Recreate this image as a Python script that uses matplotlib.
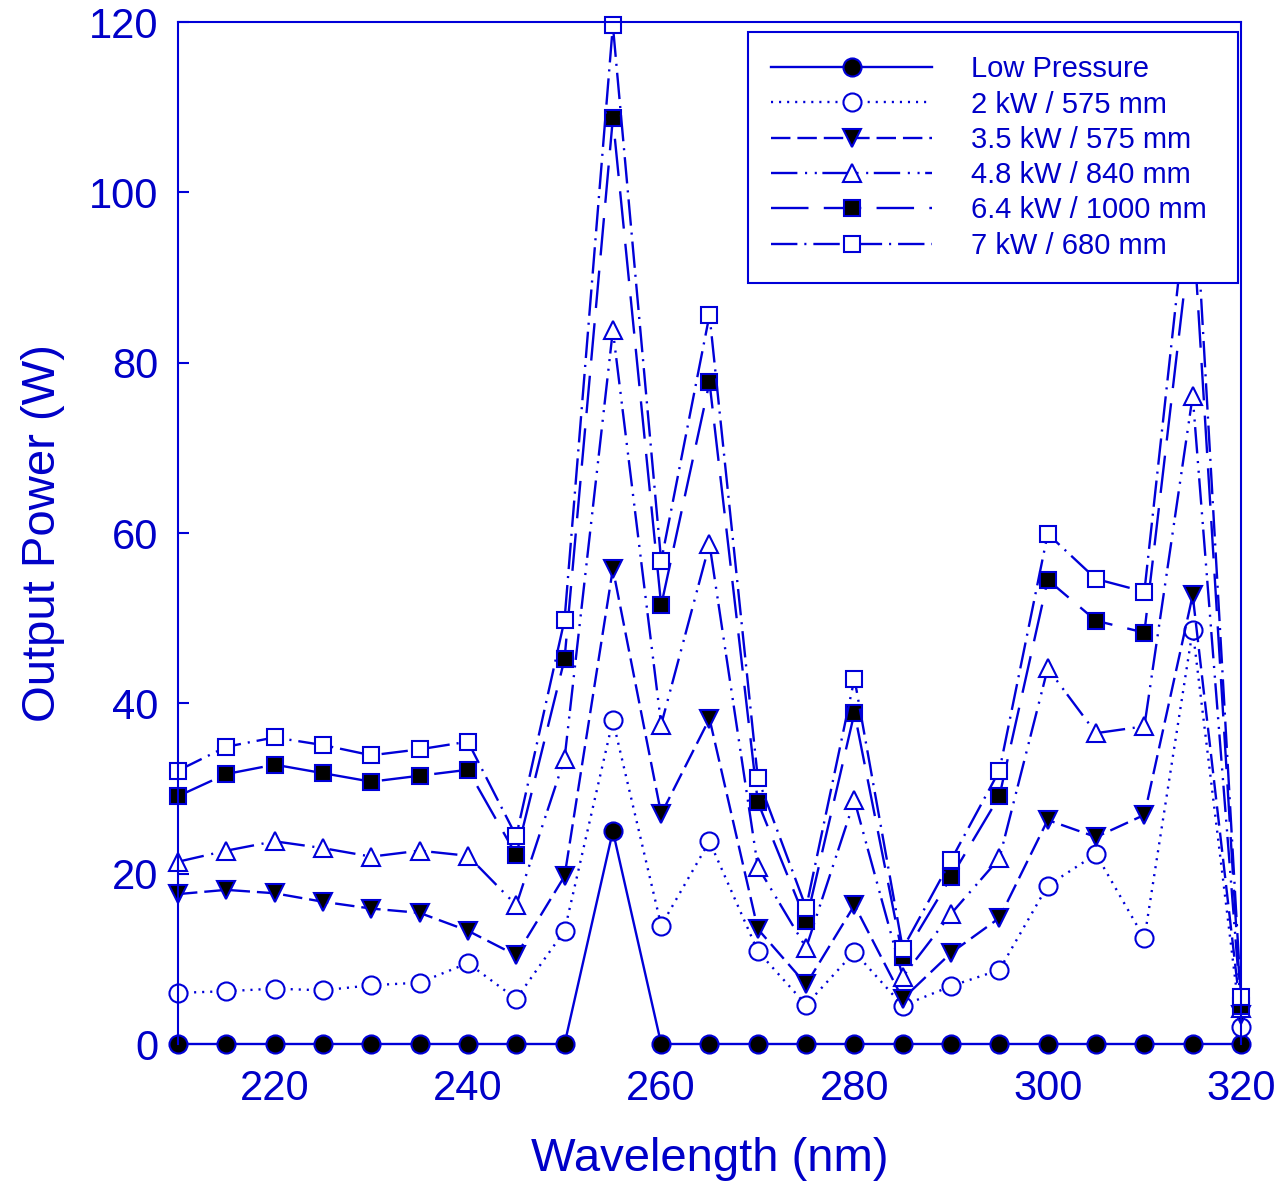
import numpy as np
import matplotlib
matplotlib.use("Agg")
import matplotlib.pyplot as plt

plt.rcParams['font.family'] = ['Liberation Sans', 'DejaVu Sans']
plt.rcParams['lines.scale_dashes'] = False

BLUE = '#0000D8'
TEXT = '#0000C8'

# wavelengths (nm)
wavelength = np.arange(210, 321, 5)

# output power (W) for each lamp setup
low_pressure = [0, 0, 0, 0, 0, 0, 0, 0, 0, 25.0, 0, 0, 0, 0, 0, 0, 0, 0, 0, 0, 0, 0, 0]
p2kw_575 = [6.0, 6.2, 6.5, 6.3, 6.9, 7.2, 9.5, 5.3, 13.3, 38.0, 13.9, 23.8,
            10.9, 4.6, 10.8, 4.5, 6.8, 8.7, 18.6, 22.3, 12.4, 48.6, 2.0]
p35kw_575 = [17.6, 18.1, 17.7, 16.7, 15.9, 15.4, 13.3, 10.4, 19.7, 55.8, 27.0, 38.2,
             13.5, 7.0, 16.3, 5.3, 10.7, 14.8, 26.3, 24.3, 26.9, 52.7, 3.4]
p48kw_840 = [21.4, 22.7, 23.8, 23.0, 22.0, 22.7, 22.1, 16.3, 33.5, 83.8, 37.5, 58.7,
             20.8, 11.3, 28.6, 7.9, 15.3, 21.8, 44.1, 36.5, 37.3, 76.1, 4.2]
p64kw_1000 = [29.1, 31.7, 32.8, 31.8, 30.8, 31.5, 32.2, 22.2, 45.2, 108.7, 51.5, 77.7,
              28.4, 14.4, 38.9, 10.2, 19.6, 29.1, 54.5, 49.7, 48.3, 97.0, 4.5]
p7kw_680 = [32.1, 34.9, 36.0, 35.1, 33.9, 34.6, 35.5, 24.4, 49.8, 119.6, 56.7, 85.6,
            31.2, 16.0, 42.9, 11.2, 21.6, 32.1, 59.9, 54.6, 53.1, 105.0, 5.5]

labels = ['Low Pressure', '2 kW / 575 mm', '3.5 kW / 575 mm',
          '4.8 kW / 840 mm', '6.4 kW / 1000 mm', '7 kW / 680 mm']

W, H = 1285, 1184
fig = plt.figure(figsize=(W / 100, H / 100), dpi=100)
ax = fig.add_axes([178 / W, 1 - 1044 / H, (1241 - 178) / W, (1044 - 22) / H])

series = [
    (low_pressure, '-', 'o', 'black', 13),
    (p2kw_575, (0, (1.5, 4.3)), 'o', 'white', 13),
    (p35kw_575, (0, (14, 5)), 'v', 'black', 13),
    (p48kw_840, (0, (19, 5.5, 1.5, 5.5, 1.5, 4)), '^', 'white', 13),
    (p64kw_1000, (0, (27, 11)), 's', 'black', 11.5),
    (p7kw_680, (0, (19, 5, 1.5, 5)), 's', 'white', 11.5),
]

for (vals, ls, mk, fc, ms), lab in zip(series, labels):
    ax.plot(wavelength, vals, linestyle=ls, color=BLUE, lw=1.7,
            marker=mk, markerfacecolor=fc, markeredgecolor=BLUE,
            markeredgewidth=1.5, markersize=ms, label=lab, clip_on=False)

ax.set_xlim(210, 320)
ax.set_ylim(0, 120)
ax.set_xticks([220, 240, 260, 280, 300, 320])
ax.set_yticks([0, 20, 40, 60, 80, 100, 120])

for side in ['left', 'top', 'right']:
    ax.spines[side].set_color(BLUE)
    ax.spines[side].set_linewidth(1.5)
ax.spines['bottom'].set_visible(False)

ax.tick_params(axis='y', direction='in', length=8, width=1.5, color=BLUE,
               labelsize=30, labelcolor=TEXT, pad=14)
ax.tick_params(axis='x', length=0, labelsize=30, labelcolor=TEXT, pad=18)

ax.set_xlabel('Wavelength (nm)', fontsize=34, color=TEXT, labelpad=20)
ax.set_ylabel('Output Power (W)', fontsize=34, color=TEXT, labelpad=17)

# legend box spans a fixed region in the upper right
leg = ax.legend(loc='upper left',
                bbox_to_anchor=(748 / W, 1 - 280 / H, 490 / W, 248 / H),
                bbox_transform=fig.transFigure, mode='expand', borderaxespad=0,
                fontsize=21, handlelength=5.5, handletextpad=1.34,
                labelspacing=0.25, borderpad=0.8, fancybox=False,
                framealpha=1, edgecolor=BLUE)
leg.get_frame().set_linewidth(1.5)
for t in leg.get_texts():
    t.set_color(TEXT)

fig.savefig('out.png', dpi=100)
